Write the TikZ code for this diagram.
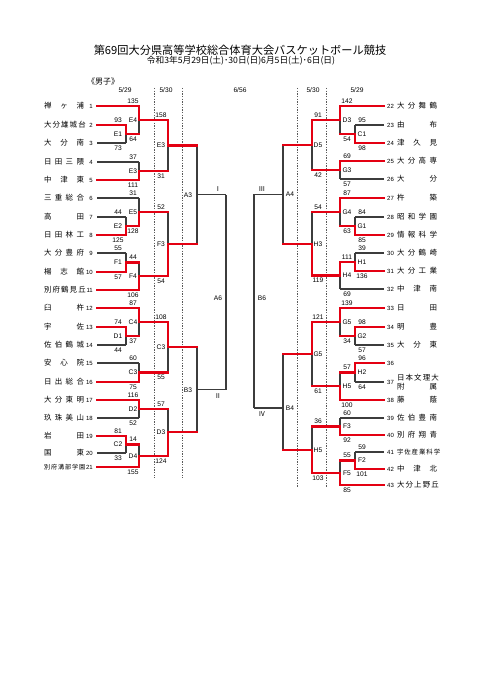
\documentclass[tikz,border=0pt]{standalone}
\usepackage{fontspec}
\setmainfont{Liberation Sans}
\newfontfamily\jp{Noto Sans CJK JP}

\tikzset{every picture/.style={line width=0.75pt}}
\tikzset{
  ln/.style={color={rgb, 255:red, 60; green, 60; blue, 60}, line width=0.8pt},
  win/.style={color={rgb, 255:red, 228; green, 0; blue, 18}, line width=1.6pt, line cap=rect},
  daysep/.style={color={rgb, 255:red, 90; green, 90; blue, 90}, line width=0.6pt, dash pattern={on 1pt off 1pt}},
  sc/.style={inner sep=0.5pt, font=\fontsize{5}{5}\selectfont},
  tno/.style={inner sep=0.5pt, font=\fontsize{4.5}{5}\selectfont},
  team/.style={inner sep=0pt, font=\jp\fontsize{5.6}{6.75}\selectfont},
  rom/.style={inner sep=0.5pt, font=\jp\fontsize{5}{5}\selectfont},
}
\newcommand\tmname[1]{\makebox[30pt][s]{#1}}

\begin{document}
\begin{tikzpicture}[x=0.75pt,y=0.75pt,yscale=-1,xscale=1]
\useasboundingbox (0,0) rectangle (481,680);

% Title
\node[font=\jp\fontsize{8.4}{10}\selectfont, inner sep=0pt] (title) at (240,50) {第69回大分県高等学校総合体育大会バスケットボール競技};
\node[font=\jp\fontsize{6.5}{8}\selectfont, inner sep=0pt] (dates) at (241,60.5) {令和3年5月29日(土)･30日(日)6月5日(土)･6日(日)};
\node[font=\jp\fontsize{6}{7}\selectfont, inner sep=0pt] (boys) at (103,81) {《男子》};

% Day columns
\node[sc] (d1) at (125,90) {5/29};
\node[sc] (d2) at (166,90) {5/30};
\node[sc] (d3) at (240,90) {6/56};
\node[sc] (d4) at (313,90) {5/30};
\node[sc] (d5) at (357,90) {5/29};
\foreach \x in {154,182} \draw[daysep] (\x,88) -- (\x,478);
\foreach \x in {297,326} \draw[daysep] (\x,88) -- (\x,488);

% Teams, left
\foreach \y/\n/\nm [count=\i] in {106/1/{禅 ヶ 浦}, 125/2/{大 分 雄 城 台}, 143/3/{大 分 南}, 162/4/{日 田 三 隈}, 180/5/{中 津 東}, 198/6/{三 重 総 合}, 217/7/{高 田}, 235/8/{日 田 林 工}, 253/9/{大 分 豊 府}, 272/10/{楊 志 館}, 290/11/{別 府 鶴 見 丘}, 308/12/{臼 杵}, 327/13/{宇 佐}, 345/14/{佐 伯 鶴 城}, 363/15/{安 心 院}, 382/16/{日 出 総 合}, 400/17/{大 分 東 明}, 418/18/{玖 珠 美 山}, 436/19/{岩 田}, 453/20/{国 東}, 467/21/{\fontsize{4.6}{5}\selectfont 別 府 溝 部 学 園}}
{
  \node[team] (lt\i) at (64,\y) {\tmname{\nm}};
  \node[tno, anchor=east] (ln\i) at (94,\y) {\n};
}
% Teams, right
\foreach \y/\n/\nm [count=\i] in {106/22/{大 分 舞 鶴}, 125/23/{由 布}, 143/24/{津 久 見}, 161/25/{大 分 高 専}, 179/26/{大 分}, 198/27/{杵 築}, 217/28/{昭 和 学 園}, 235/29/{情 報 科 学}, 253/30/{大 分 鶴 崎}, 271/31/{大 分 工 業}, 289/32/{中 津 南}, 308/33/{日 田}, 327/34/{明 豊}, 345/35/{大 分 東}, 363/36/{}, 382/37/{}, 400/38/{藤 蔭}, 418/39/{佐 伯 豊 南}, 435/40/{別 府 翔 青}, 452/41/{\fontsize{4.8}{5}\selectfont 宇 佐 産 業 科 学}, 469/42/{中 津 北}, 485/43/{大 分 上 野 丘}}
{
  \node[team] (rt\i) at (417,\y) {\tmname{\nm}};
  \node[tno, anchor=west] (rn\i) at (386,\y) {\n};
}
\node[team, align=center] (rt37b) at (417,382) {\tmname{日 本 文 理 大}\\\tmname{附 属}};

% Lines lost
\foreach \y/\xe in {143/126, 162/139, 198/139, 217/126, 253/126, 345/126, 363/139, 418/139, 453/126}
  \draw[ln] (97,\y) -- (\xe,\y);
\foreach \y/\xe in {125/355, 179/340, 217/355, 253/355, 289/340, 345/355, 382/355, 418/340, 452/355}
  \draw[ln] (384,\y) -- (\xe,\y);
\foreach \x/\a/\b in {126/125/143, 139/106/134, 139/162/180, 168/120/171, 126/217/235, 139/198/226, 126/253/272, 139/262.5/290, 168/212/276.25, 126/327/345, 139/308/336, 139/363/382, 168/322/372.5, 139/400/418, 126/436/453, 139/444.5/467, 168/409/455.75, 197/145.5/244.1, 197/347.25/432.4, 226/194.8/389.8, 355/125/143, 340/106/134, 340/161/179, 312/120/170, 355/217/235, 340/198/226, 355/253/271, 340/262/289, 312/212/275.5, 355/327/345, 340/308/336, 355/363/382, 340/372.5/400, 312/322/386.25, 340/418/435, 355/452/469, 340/460.5/485, 312/426.5/472.75, 283/145/243.75, 283/354.1/449.6, 254/194.4/408}
  \draw[ln] (\x,\a) -- (\x,\b);
\draw[ln] (197,194.8) -- (226,194.8);
\draw[ln] (197,389.8) -- (226,389.8);
\draw[ln] (283,194.4) -- (254,194.4);
\draw[ln] (283,408) -- (254,408);

% Lines won
\foreach \y/\xe in {106/139, 125/126, 180/139, 235/126, 272/126, 290/139, 308/139, 327/126, 382/139, 400/139, 436/126, 467/139}
  \draw[win] (97,\y) -- (\xe,\y);
\foreach \y/\xe in {106/340, 143/355, 161/340, 198/340, 235/355, 271/355, 308/340, 327/355, 363/355, 400/340, 435/340, 469/355, 485/340}
  \draw[win] (384,\y) -- (\xe,\y);
\foreach \x/\a/\b/\w/\nx in {126/125/143/125/139, 139/106/134/106/168, 139/162/180/180/168, 168/120/171/120/197, 126/217/235/235/139, 139/198/226/226/168, 126/253/272/272/139, 139/262.5/290/290/168, 168/212/276.25/276.25/197, 126/327/345/327/139, 139/308/336/308/168, 139/363/382/382/168, 168/322/372.5/322/197, 139/400/418/400/168, 126/436/453/436/139, 139/444.5/467/467/168, 168/409/455.75/455.75/197, 355/125/143/143/340, 340/106/134/106/312, 340/161/179/161/312, 312/120/170/120/283, 355/217/235/235/340, 340/198/226/198/312, 355/253/271/271/340, 340/262/289/262/312, 312/212/275.5/275.5/283, 355/327/345/327/340, 340/308/336/308/312, 355/363/382/363/340, 340/372.5/400/400/312, 312/322/386.25/322/283, 340/418/435/435/312, 355/452/469/469/340, 340/460.5/485/485/312, 312/426.5/472.75/472.75/283}
  \draw[win] (\x,\w) -- (\x,{(\a+\b)/2}) -- (\nx,{(\a+\b)/2});

% Scores and games, left
\foreach \x/\y/\t [count=\i] in {118/120/93, 118/134/E1, 118/148/73, 118/212/44, 118/226/E2, 118/240/125, 118/248/55, 118/262.5/F1, 118/277/57, 118/322/74, 118/336/D1, 118/350/44, 118/431/81, 118/444.5/C2, 118/458/33, 133/101/135, 133/120/E4, 133/139/64, 133/157/37, 133/171/E3, 133/185/111, 133/193/31, 133/212/E5, 133/231/128, 133/257/44, 133/276/F4, 133/295/106, 133/303/87, 133/322/C4, 133/341/37, 133/358/60, 133/372.5/C3, 133/387/75, 133/395/116, 133/409/D2, 133/423/52, 133/439.5/14, 133/456/D4, 133/472/155, 161/115/158, 161/145.5/E3, 161/176/31, 161/207/52, 161/244/F3, 161/281/54, 161/317/108, 161/347/C3, 161/377.5/55, 161/404/57, 161/432.5/D3, 161/461/124, 188/194.8/A3, 188/389.8/B3, 218/298/A6}
  \node[sc] (ls\i) at (\x,\y) {\t};
% Scores and games, right
\foreach \x/\y/\t [count=\i] in {362/120/95, 362/134/C1, 362/148/98, 362/212/84, 362/226/G1, 362/240/85, 362/248/39, 362/262/H1, 362/276/136, 362/322/98, 362/336/G2, 362/350/57, 362/358/96, 362/372.5/H2, 362/387/64, 362/447/59, 362/460.5/F2, 362/474/101, 347/101/142, 347/120/D3, 347/139/54, 347/156/69, 347/170/G3, 347/184/57, 347/193/87, 347/212/G4, 347/231/63, 347/257/111, 347/275.5/H4, 347/294/69, 347/303/139, 347/322/G5, 347/341/34, 347/367.5/57, 347/386/H5, 347/405/100, 347/413/60, 347/426.5/F3, 347/440/92, 347/455.5/55, 347/473/F5, 347/490/85, 318/115/91, 318/145/D5, 318/175/42, 318/207/54, 318/244/H3, 318/280.5/119, 318/317/121, 318/354/G5, 318/391/61, 318/421.5/36, 318/450/H5, 318/478/103, 290/194.4/A4, 290/408/B4, 262/298/B6}
  \node[sc] (rs\i) at (\x,\y) {\t};

% Rounds
\node[rom] (r1) at (218,189) {Ⅰ};
\node[rom] (r2) at (218,396) {Ⅱ};
\node[rom] (r3) at (262,189) {Ⅲ};
\node[rom] (r4) at (262,414) {Ⅳ};

\end{tikzpicture}
\end{document}
